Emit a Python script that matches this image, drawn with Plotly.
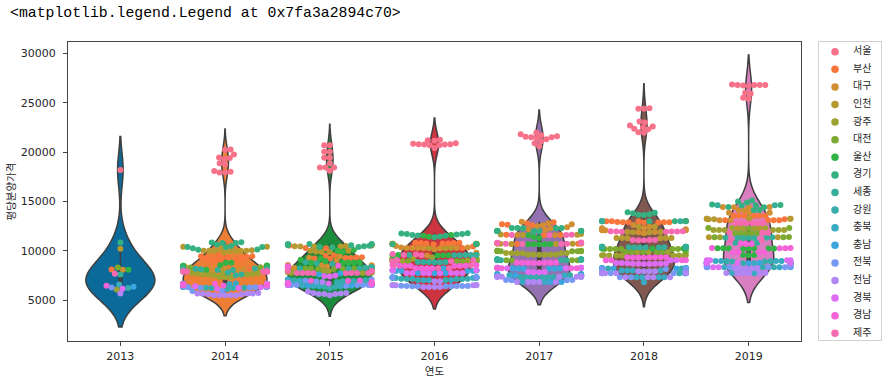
import math
import numpy as np
import plotly.graph_objects as go

# ---------------- data ----------------
regions = ["서울", "부산", "대구", "인천", "광주", "대전", "울산", "경기", "세종",
           "강원", "충북", "충남", "전북", "전남", "경북", "경남", "제주"]
years = ["2013", "2014", "2015", "2016", "2017", "2018", "2019"]

# 평당분양가격 per region (same order as `regions`), one list per year
p2013 = [[18189], [8111], [8080], [10204], [6098], [8321], [8090], [10855], [7601],
         [6230], [6589], [6365], [6282], [5678], [6168], [6473], [7674]]

p2014 = [
    [17925, 17925, 18016, 18098, 19446, 18867, 18742, 19274, 19404, 19759, 20242, 20269],
    [8111, 9078, 8965, 9402, 9501, 9453, 9457, 9411, 9258, 9110, 9208, 9208],
    [8080, 8077, 8101, 8267, 8274, 8360, 8360, 8370, 8449, 8403, 8439, 8253],
    [10204, 10408, 10408, 10000, 9844, 10058, 9974, 9973, 9973, 10016, 10020, 10020],
    [7326, 7611, 7346, 7346, 7523, 7659, 7612, 7622, 7802, 7707, 7762, 7761],
    [8321, 8321, 8341, 8341, 8341, 8333, 8333, 8333, 8151, 8153, 8153, 8153],
    [8090, 8153, 8153, 8153, 8153, 8493, 8485, 8485, 8517, 8541, 8806, 8806],
    [10855, 10791, 10784, 10876, 10646, 10266, 10124, 10134, 10501, 10397, 10356, 10379],
    [7600, 7532, 7814, 7908, 7934, 8067, 8067, 8141, 8202, 8237, 8210, 8210],
    [6230, 6230, 6141, 6373, 6350, 6350, 6268, 6268, 6419, 6631, 6365, 6365],
    [6589, 6589, 6650, 6650, 6650, 6650, 6650, 6650, 6650, 6701, 6701, 6698],
    [6365, 6365, 6440, 6440, 6440, 6440, 6440, 6440, 6440, 6441, 6441, 6462],
    [6281, 5946, 5966, 6277, 6306, 6351, 6319, 6436, 6440, 6440, 6440, 6440],
    [5678, 5678, 5696, 5736, 5656, 5609, 5609, 5502, 5502, 5502, 5502, 5502],
    [6168, 6234, 6317, 6412, 6409, 6554, 6556, 6563, 6563, 6563, 6563, 6563],
    [6485, 6502, 6610, 6599, 6610, 6615, 6613, 6606, 6613, 6626, 6659, 6659],
    [7900, 7900, 7900, 7900, 7900, 7914, 7914, 7914, 7914, 7914, 7914, 7914],
]

p2015 = [
    [18110, 18450, 18450, 18450, 18860, 19430, 19430, 20030, 20030, 20700, 20700],
    [9204, 9235, 9273, 9279, 9327, 9345, 9515, 9559, 10270, 10300, 10540],
    [8253, 8327, 8416, 8441, 8446, 8568, 8542, 8542, 9020, 9300, 9460],
    [10020, 10017, 9876, 9876, 9938, 10551, 10443, 10443, 10438, 10470, 10500],
    [7761, 7794, 7825, 7825, 7795, 7999, 7929, 7929, 8016, 7950, 7950],
    [8153, 8153, 7952, 7952, 8214, 8220, 8220, 8220, 8200, 8190, 8180],
    [8806, 8801, 8801, 8801, 8850, 8950, 9100, 9200, 9900, 10000, 10100],
    [10379, 10391, 10355, 10469, 10684, 10685, 10573, 10518, 10573, 10650, 10700],
    [8210, 8230, 8250, 8300, 8342, 8342, 8342, 8342, 8700, 8750, 8850],
    [6348, 6350, 6182, 6924, 6846, 6986, 7019, 7082, 7030, 7050, 7100],
    [6601, 6422, 6422, 6432, 6501, 6556, 6606, 6689, 6700, 7000, 7100],
    [6462, 6462, 6569, 6569, 6569, 6581, 6603, 6603, 6566, 7600, 7700],
    [6440, 6535, 6535, 6535, 6555, 6555, 6555, 6555, 6900, 7000, 7100],
    [5502, 5633, 5633, 5633, 5674, 5738, 5738, 5875, 6700, 6800, 6850],
    [6563, 6560, 6560, 6591, 6697, 6697, 6722, 6708, 7400, 7450, 7500],
    [6659, 6712, 6712, 6785, 6840, 6962, 6962, 7003, 8400, 8450, 8500],
    [7740, 7740, 7750, 7750, 7760, 7760, 7770, 7770, 7950, 7951, 7952],
]

p2016 = [
    [20420, 20700, 20700, 20760, 20760, 20800, 20800, 20850, 20890, 21150, 21200, 21250],
    [10300, 10450, 10680, 10680, 10680, 10740, 10740, 10740, 10790, 10790, 10810, 10810],
    [9540, 9800, 10150, 10270, 10270, 10280, 10280, 10300, 10300, 10330, 10330, 10500],
    [10270, 10270, 10280, 10690, 10690, 10690, 10700, 10700, 10710, 10710, 10720, 10720],
    [8950, 8950, 9030, 9190, 9190, 9210, 9210, 9260, 9260, 9300, 9350, 9580],
    [8940, 8940, 8940, 8950, 8950, 8950, 8960, 8960, 8960, 9070, 9070, 9100],
    [9520, 9560, 9560, 9580, 9580, 9600, 9600, 10680, 10690, 11420, 11520, 11600],
    [10680, 10700, 11390, 11450, 11520, 11560, 11610, 11650, 11700, 11720, 11760, 11790],
    [8860, 8860, 8870, 8870, 8880, 8880, 9560, 9560, 9570, 9570, 9580, 9580],
    [7040, 7040, 7150, 7150, 7160, 7160, 7180, 7180, 7310, 7310, 7340, 7340],
    [7030, 7030, 7040, 7260, 7260, 7270, 7270, 7280, 7280, 7300, 7300, 7330],
    [7740, 7740, 7750, 7960, 7960, 7970, 7970, 8010, 8010, 8040, 8040, 8250],
    [6420, 6420, 6430, 6430, 6440, 6440, 6450, 6450, 6460, 7330, 7340, 7350],
    [6330, 6330, 6340, 6340, 6520, 6520, 6530, 6530, 6540, 6540, 6920, 6930],
    [7740, 7740, 7750, 7750, 7760, 7760, 7770, 7770, 8040, 8040, 8050, 8050],
    [8240, 8240, 8250, 8250, 8460, 8460, 8470, 8470, 8500, 8500, 8550, 8550],
    [8240, 8250, 8540, 8550, 8940, 8950, 9050, 9060, 9560, 9570, 9660, 9680],
]

p2017 = [
    [20600, 20900, 21100, 21300, 21400, 21500, 21500, 21550, 21600, 21700, 21800, 21950],
    [10700, 10720, 10740, 10760, 11580, 11600, 11620, 12600, 12650, 12700, 12800, 12900],
    [11590, 11600, 12000, 12100, 12200, 12300, 12400, 12500, 12600, 12700, 12800, 12950],
    [10700, 10700, 10720, 10720, 10740, 10740, 10760, 10780, 11600, 11640, 11650, 11700],
    [9610, 9610, 9620, 9620, 9630, 9640, 9760, 9760, 9770, 9770, 9780, 9780],
    [9050, 9050, 9060, 9060, 9950, 9950, 9960, 9960, 9970, 10000, 10010, 10020],
    [10660, 10660, 10670, 10670, 10680, 11300, 11400, 11590, 12000, 12010, 12020, 12030],
    [11990, 11990, 12000, 12000, 12010, 12010, 12020, 12300, 12300, 12310, 12310, 12320],
    [9050, 9050, 9060, 9060, 9070, 9070, 9130, 9130, 9140, 9140, 9150, 9150],
    [7330, 7330, 7340, 7340, 7350, 7350, 7360, 7530, 7530, 7540, 7540, 7550],
    [7520, 7520, 7530, 7530, 7540, 7620, 7630, 7640, 7650, 7660, 6840, 6850],
    [8190, 8190, 8200, 8200, 8210, 8210, 7520, 7530, 7540, 7550, 6850, 6860],
    [7030, 7030, 7040, 7040, 7390, 7390, 7400, 7400, 7410, 7410, 7420, 7420],
    [6840, 6840, 6850, 6850, 6860, 7370, 7370, 7380, 7380, 7390, 7390, 7400],
    [7840, 7840, 7850, 7850, 8240, 8240, 8280, 8280, 8290, 8290, 8300, 8300],
    [8240, 8240, 8250, 8250, 8780, 8780, 8790, 8790, 8800, 8800, 8810, 8810],
    [10700, 10700, 10710, 10710, 10800, 10820, 10830, 10840, 11590, 11600, 11610, 11620],
]

p2018 = [
    [21950, 22000, 22300, 22350, 22500, 22600, 22700, 23000, 23100, 24400, 24400, 24450],
    [12880, 12880, 12890, 12890, 12900, 12900, 12910, 13000, 13000, 13010, 13010, 13020],
    [12090, 11900, 12180, 12300, 12090, 12450, 11880, 12200, 12090, 12620, 11760, 12300],
    [11280, 11280, 11290, 11290, 11300, 11300, 11880, 11890, 11900, 11910, 12450, 12460],
    [9520, 9520, 9530, 9530, 9540, 9540, 9550, 9550, 9560, 9860, 9860, 9870],
    [10180, 10180, 10190, 10190, 10200, 10200, 9860, 9860, 9870, 9870, 9880, 9880],
    [10240, 10240, 10250, 10250, 10260, 10260, 10400, 10400, 10410, 10410, 10420, 10420],
    [13000, 13000, 13010, 13010, 13020, 13020, 13620, 13650, 13700, 13800, 13850, 13920],
    [10340, 10340, 10350, 10350, 10360, 10360, 10400, 10400, 10410, 10410, 13000, 13010],
    [8220, 8220, 8230, 8230, 8240, 8240, 7740, 7740, 7750, 7750, 8250, 8250],
    [8010, 8010, 8020, 8020, 7330, 7330, 7340, 7340, 7740, 7740, 7750, 6820],
    [8200, 8200, 8210, 8210, 8220, 8220, 7740, 7740, 7750, 7750, 8230, 8230],
    [8170, 8170, 8180, 8180, 7740, 7740, 7750, 7750, 7760, 7760, 7330, 7340],
    [7930, 7930, 7940, 7940, 7740, 7740, 7750, 7750, 7330, 7330, 7340, 7340],
    [8680, 8680, 8690, 8690, 8700, 8700, 8750, 8750, 8760, 8760, 9050, 9050],
    [9050, 9050, 9060, 9060, 9330, 9330, 9340, 9340, 9350, 9350, 9360, 9360],
    [11080, 11080, 11090, 11090, 11100, 11930, 11940, 11950, 11960, 11970, 11980, 11990],
]

p2019 = [
    [25400, 25500, 25900, 26000, 26700, 26750, 26790, 26800, 26800, 26800, 26850],
    [13100, 13100, 13110, 13110, 13200, 13540, 13540, 13550, 13550, 13560, 13560],
    [13100, 13110, 14120, 14130, 14400, 14420, 14430, 14440, 13850, 13860, 13870],
    [13200, 13200, 13250, 13250, 13260, 13260, 12300, 12310, 11380, 11390, 13270],
    [12100, 12100, 12110, 12110, 12120, 12120, 12300, 12300, 12310, 12310, 11380],
    [11770, 11770, 11780, 11780, 11790, 12300, 12310, 12320, 11380, 11390, 11400],
    [10220, 10220, 10230, 10230, 9560, 9570, 9580, 10240, 10250, 10260, 10270],
    [14420, 14430, 14600, 14620, 14640, 14700, 14900, 15000, 15100, 14120, 14130],
    [11300, 11300, 11310, 11310, 11320, 11320, 10800, 10810, 14620, 14630, 11380],
    [8930, 8930, 8940, 8940, 8750, 8750, 8760, 8760, 8340, 8340, 8350],
    [8970, 8970, 8980, 8980, 8750, 8750, 8760, 8340, 8340, 7740, 7750],
    [8750, 8750, 8760, 8760, 8770, 8770, 8780, 8780, 8790, 8790, 8800],
    [8530, 8530, 8540, 8540, 8340, 8340, 8350, 8350, 8360, 8360, 8370],
    [8220, 8220, 8230, 8230, 8240, 7740, 7740, 7750, 7750, 7760, 7760],
    [9050, 9050, 9060, 9060, 8750, 8750, 8760, 8760, 8770, 8340, 8350],
    [10270, 10270, 10280, 10280, 10700, 10700, 10710, 9860, 9860, 9870, 9870],
    [12800, 12800, 12810, 12810, 12820, 12820, 11830, 11830, 11840, 11080, 11090],
]

year_data = [p2013, p2014, p2015, p2016, p2017, p2018, p2019]

# ---------------- styles ----------------
violin_colors = ["#0b6a99", "#ec7f35", "#1d8b3c", "#cc3440", "#9471b0", "#80584f", "#d97ec0"]
edge_gray = "#3f3f3f"

# HUSL palette (as used for hue with many levels)
_M = [[3.2406, -1.5372, -0.4986], [-0.9689, 1.8758, 0.0415], [0.0557, -0.2040, 1.0570]]
_refU, _refV = 0.19784, 0.46834


def _max_chroma(L, H):
    hrad = math.radians(H)
    sinH, cosH = math.sin(hrad), math.cos(hrad)
    sub1 = (L + 16) ** 3 / 1560896.0
    sub2 = sub1 if sub1 > 0.008856 else L / 903.3
    result = float("inf")
    for m1, m2, m3 in _M:
        top = (0.99915 * m1 + 1.05122 * m2 + 1.14460 * m3) * sub2
        rbottom = 0.86330 * m3 - 0.17266 * m2
        lbottom = 0.12949 * m3 - 0.38848 * m1
        bottom = (rbottom * sinH + lbottom * cosH) * sub2
        for t in (0.0, 1.0):
            C = L * (top - 1.05122 * t) / (bottom + 0.17266 * sinH * t)
            if 0.0 < C < result:
                result = C
    return result


def _husl_to_hex(H, S, L):
    C = _max_chroma(L, H) / 100.0 * S
    U = math.cos(math.radians(H)) * C
    V = math.sin(math.radians(H)) * C
    t = (L + 16.0) / 116.0
    Y = t ** 3 if t ** 3 > 0.008856 else (116.0 * t - 16.0) / 903.3
    varU = U / (13.0 * L) + _refU
    varV = V / (13.0 * L) + _refV
    X = 0.0 - (9.0 * Y * varU) / ((varU - 4.0) * varV - varU * varV)
    Z = (9.0 * Y - 15.0 * varV * Y - varV * X) / (3.0 * varV)
    out = []
    for row in _M:
        c = row[0] * X + row[1] * Y + row[2] * Z
        c = 12.92 * c if c <= 0.0031308 else 1.055 * c ** (1 / 2.4) - 0.055
        out.append(int(round(min(max(c, 0.0), 1.0) * 255)))
    return "#%02x%02x%02x" % tuple(out)


hues = (np.linspace(0, 1, len(regions) + 1)[:-1] + 0.01) % 1 * 359
region_colors = [_husl_to_hex(h, 0.9 * 99, 0.65 * 99) for h in hues]

# ---------------- geometry ----------------
W, H = 889, 379
# main plot box in figure pixels
P_L, P_R, P_T, P_B = 68, 801, 42, 341
# legend box in figure pixels
LG_L, LG_R, LG_T, LG_B = 819, 881, 42, 340
ML, MR, MT, MB = P_L, W - LG_R, P_T, H - P_B
AW, AH = W - ML - MR, H - MT - MB          # paper area
PW, PH = P_R - P_L, P_B - P_T              # main plot size
XR = [-0.5, 6.5]
YR = [875, 31145]
PX_X = PW / (XR[1] - XR[0])       # px per category unit
PX_Y = PH / (YR[1] - YR[0])       # px per value unit
DOT = 5.3                          # swarm spacing in px


def beeswarm(ypx, d):
    placed = []
    for k, y in enumerate(ypx):
        neighbors = []
        for xj, yj in reversed(placed):
            if y - yj < d:
                neighbors.append((xj, yj))
            else:
                break
        neighbors.reverse()
        if not neighbors:
            placed.append((0.0, y))
            continue
        cands = [(0.0, y)]
        left_first = True
        for xj, yj in neighbors:
            dx = math.sqrt(max(d * d - (y - yj) ** 2, 0)) * 1.05
            cl, cr = (xj - dx, y), (xj + dx, y)
            cands.extend([cl, cr] if left_first else [cr, cl])
            left_first = not left_first
        cands = np.array(cands)
        cands = cands[np.argsort(np.abs(cands[:, 0]))]
        nb = np.array(neighbors)
        chosen = cands[-1]
        for c in cands:
            if np.all((nb[:, 0] - c[0]) ** 2 + (nb[:, 1] - c[1]) ** 2 >= d * d - 1e-9):
                chosen = c
                break
        placed.append((float(chosen[0]), float(chosen[1])))
    return np.array([p[0] for p in placed])


# ---------------- figure ----------------
fig = go.Figure()

# violins (seaborn-like: scott bandwidth, cut=2, area scaling, width .8)
stats = []
for i, yd in enumerate(year_data):
    v = np.array([x for reg in yd for x in reg], dtype=float)
    bw = v.std(ddof=1) * len(v) ** (-0.2)
    grid = np.linspace(v.min() - 2 * bw, v.max() + 2 * bw, 500)
    dens = np.exp(-0.5 * ((grid[:, None] - v[None, :]) / bw) ** 2).sum(1) / (len(v) * bw * math.sqrt(2 * math.pi))
    stats.append((v, bw, dens.max()))
gmax = max(s[2] for s in stats)

for i, (v, bw, mx) in enumerate(stats):
    fig.add_trace(go.Violin(
        x=[i] * len(v), y=v, bandwidth=bw, spanmode="soft",
        width=0.8 * mx / gmax, scalemode="width",
        fillcolor=violin_colors[i], line=dict(color=edge_gray, width=1.5),
        points=False, box_visible=False, meanline_visible=False,
        showlegend=False, hoverinfo="skip", opacity=1,
    ))

# inner mini box plots
for i, (v, bw, mx) in enumerate(stats):
    q25, q50, q75 = np.percentile(v, [25, 50, 75])
    lim = 1.5 * (q75 - q25)
    h1 = v[v >= q25 - lim].min()
    h2 = v[v <= q75 + lim].max()
    fig.add_trace(go.Scatter(x=[i, i], y=[h1, h2], mode="lines",
                             line=dict(color=edge_gray, width=1.5),
                             showlegend=False, hoverinfo="skip"))
    fig.add_trace(go.Scatter(x=[i, i], y=[q25, q75], mode="lines",
                             line=dict(color=edge_gray, width=4.5),
                             showlegend=False, hoverinfo="skip"))
    fig.add_trace(go.Scatter(x=[i], y=[q50], mode="markers",
                             marker=dict(color="white", size=3, line=dict(color=edge_gray, width=0.5)),
                             showlegend=False, hoverinfo="skip"))

# swarm layout per year
pts_x = [[] for _ in regions]
pts_y = [[] for _ in regions]
for i, yd in enumerate(year_data):
    vals, regs = [], []
    nmax = max(len(r) for r in yd)
    for m in range(nmax):
        for r, reg in enumerate(yd):
            if m < len(reg):
                vals.append(reg[m])
                regs.append(r)
    vals = np.array(vals, dtype=float)
    regs = np.array(regs)
    order = np.argsort(vals)
    vals, regs = vals[order], regs[order]
    xoff = beeswarm(vals * PX_Y, DOT) / PX_X
    xoff = np.clip(xoff, -0.4, 0.4)
    for val, r, xo in zip(vals, regs, xoff):
        pts_x[r].append(i + xo)
        pts_y[r].append(val)

for r, name in enumerate(regions):
    fig.add_trace(go.Scatter(
        x=pts_x[r], y=pts_y[r], mode="markers", name=name, showlegend=False,
        marker=dict(color=region_colors[r], size=6, line=dict(width=0)),
    ))

# legend drawn in its own small axes (matplotlib-like spacing)
lg_w, lg_h = LG_R - LG_L, LG_B - LG_T
row_y = [9.7 + 17.6 * k for k in range(len(regions))]
fig.add_trace(go.Scatter(
    x=[16] * len(regions), y=row_y, mode="markers", xaxis="x2", yaxis="y2",
    marker=dict(color=region_colors, size=7.5, line=dict(width=0)),
    showlegend=False, hoverinfo="skip"))
fig.add_trace(go.Scatter(
    x=[34] * len(regions), y=row_y, mode="text", text=regions, textposition="middle right",
    textfont=dict(family="Noto Sans CJK KR, sans-serif", size=10, color="#262626"),
    xaxis="x2", yaxis="y2", showlegend=False, hoverinfo="skip"))

font_main = "Noto Sans CJK KR, DejaVu Sans, sans-serif"
font_num = "DejaVu Sans, sans-serif"
axis_common = dict(showline=True, mirror=True, linecolor="#444444", linewidth=1,
                   ticks="outside", ticklen=4, tickcolor="#444444", tickwidth=1,
                   showgrid=False, zeroline=False,
                   tickfont=dict(family=font_num, size=11, color="#262626"))


def fx(px):  # figure px -> paper x
    return (px - ML) / AW


def fy(py):  # figure px (from top) -> paper y
    return (H - MB - py) / AH


fig.update_layout(
    xaxis=dict(domain=[fx(P_L), fx(P_R)], range=XR, tickvals=list(range(len(years))), ticktext=years,
               ticklabelstandoff=1,
               title=dict(text="연도", standoff=0, font=dict(family=font_main, size=10.5, color="#262626")),
               **axis_common),
    yaxis=dict(domain=[fy(P_B), fy(P_T)], range=YR, tick0=0, dtick=5000, tickformat="d", ticklabelstandoff=5,
               title=dict(text="평당분양가격", standoff=3, font=dict(family=font_main, size=10.5, color="#262626")),
               **axis_common),
    xaxis2=dict(domain=[fx(LG_L), fx(LG_R)], range=[0, lg_w], anchor="y2",
                showline=True, mirror=True, linecolor="#d0d0d0", linewidth=1,
                showticklabels=False, ticks="", showgrid=False, zeroline=False, fixedrange=True),
    yaxis2=dict(domain=[fy(LG_B), fy(LG_T)], range=[lg_h, 0], anchor="x2",
                showline=True, mirror=True, linecolor="#d0d0d0", linewidth=1,
                showticklabels=False, ticks="", showgrid=False, zeroline=False, fixedrange=True),
    width=W, height=H, margin=dict(l=ML, r=MR, t=MT, b=MB, autoexpand=False),
    paper_bgcolor="white", plot_bgcolor="white",
    violinmode="overlay", violingap=0, violingroupgap=0,
    showlegend=False,
    font=dict(family=font_main, size=10.5, color="#262626"),
    annotations=[dict(text="&lt;matplotlib.legend.Legend at 0x7fa3a2894c70&gt;",
                      xref="paper", yref="paper", x=fx(8), y=fy(13),
                      xanchor="left", yanchor="middle", showarrow=False,
                      font=dict(family="Liberation Mono, monospace", size=14.8, color="black"))],
)

fig.write_html("out.html", config={"displayModeBar": False},
               post_script="document.body.style.margin='0px';document.body.style.overflow='hidden';")
